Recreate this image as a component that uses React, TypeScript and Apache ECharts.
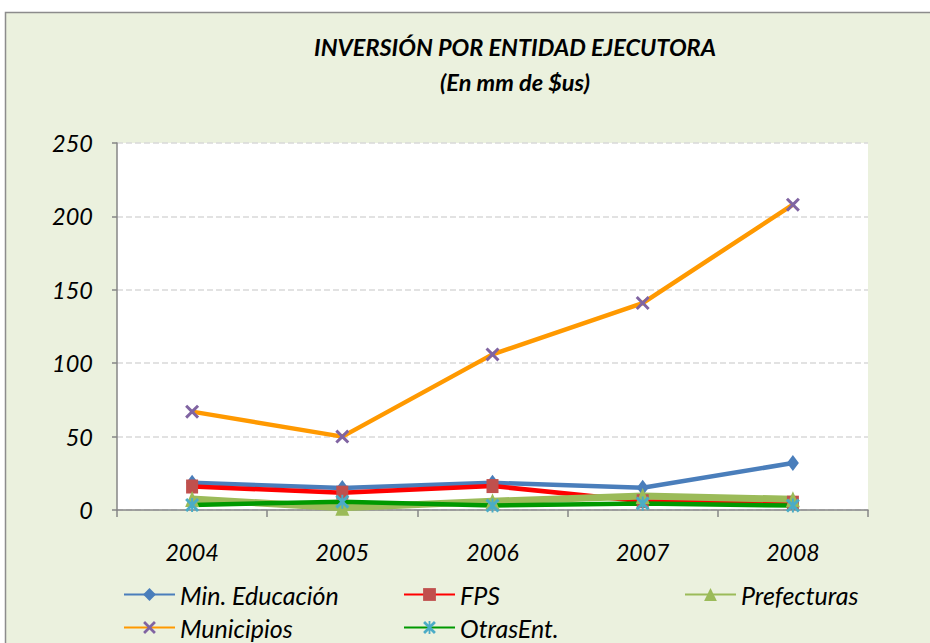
import React, { useEffect, useRef } from "react";
import * as echarts from "echarts";

const years = ["2004", "2005", "2006", "2007", "2008"];
const minEducacion = [18.5, 15, 18.5, 15.2, 32];
const fps = [16, 11.8, 16.3, 6, 5];
const prefecturas = [7.5, 1.5, 6, 9.5, 7.3];
const municipios = [67, 50, 106, 141, 208];
const otrasEnt = [3.4, 5.7, 3, 4.5, 3];
const yTicks = { min: 0, max: 250, interval: 50 };

const FONT = "Lato, 'Open Sans', sans-serif";

const xPath =
  "path://M0,1.5L1.5,0L5,3.5L8.5,0L10,1.5L6.5,5L10,8.5L8.5,10L5,6.5L1.5,10L0,8.5L3.5,5Z";
const starPath =
  "path://M0,1.5L1.5,0L5,3.5L8.5,0L10,1.5L6.5,5L10,8.5L8.5,10L5,6.5L1.5,10L0,8.5L3.5,5ZM4.3,0L5.7,0L5.7,10L4.3,10Z";

export default function App() {
  const ref = useRef<HTMLDivElement>(null);
  useEffect(() => {
    if (!ref.current) return;
    const chart = echarts.init(ref.current, null, { renderer: "svg" });
    const legendText = { fontSize: 25, fontStyle: "italic", color: "#000", fontFamily: FONT };
    const mkLegend = (name: string, left: number, top: number) => ({
      data: [name],
      left,
      top,
      itemWidth: 51,
      itemHeight: 16,
      itemGap: 4,
      textStyle: legendText,
    });
    chart.setOption({
      animation: false,
      backgroundColor: "#ffffff",
      graphic: [
        {
          type: "rect",
          z: -10,
          shape: { x: 5.5, y: 12.5, width: 940, height: 650 },
          style: { fill: "#EBF1DE", stroke: "#8C8C8C", lineWidth: 1.5 },
          silent: true,
        },
      ],
      title: {
        text: "INVERSIÓN POR ENTIDAD EJECUTORA\n(En mm de $us)",
        left: 510,
        top: 24,
        textAlign: "center",
        textStyle: {
          fontSize: 23.5,
          fontWeight: "bold",
          fontStyle: "italic",
          color: "#000",
          fontFamily: FONT,
          lineHeight: 35,
        },
      },
      grid: {
        left: 117,
        right: 62,
        top: 143,
        bottom: 133,
        show: true,
        backgroundColor: "#ffffff",
        borderWidth: 0,
      },
      legend: [
        mkLegend("Min. Educación", 118, 577),
        mkLegend("FPS", 398, 577),
        mkLegend("Prefecturas", 679, 577),
        mkLegend("Municipios", 118, 610),
        mkLegend("OtrasEnt.", 398, 610),
      ],
      xAxis: {
        type: "category",
        data: years,
        boundaryGap: true,
        axisLine: { lineStyle: { color: "#868686", width: 1.5 } },
        axisTick: { show: true, length: 7, lineStyle: { color: "#868686", width: 1.5 } },
        axisLabel: {
          fontSize: 23,
          fontStyle: "italic",
          color: "#000",
          fontFamily: FONT,
          margin: 30,
        },
      },
      yAxis: {
        type: "value",
        min: yTicks.min,
        max: yTicks.max,
        interval: yTicks.interval,
        axisLine: { show: true, lineStyle: { color: "#868686", width: 1.5 } },
        axisTick: { show: true, length: 5, lineStyle: { color: "#868686", width: 1.5 } },
        axisLabel: {
          fontSize: 23.5,
          fontStyle: "italic",
          color: "#000",
          fontFamily: FONT,
          margin: 24,
        },
        splitLine: { lineStyle: { color: "#D9D9D9", type: [6, 3], width: 1.5 } },
      },
      series: [
        {
          name: "Min. Educación",
          type: "line",
          data: minEducacion,
          symbol: "diamond",
          symbolSize: [12, 16],
          lineStyle: { color: "#4A7EBB", width: 4.5 },
          itemStyle: { color: "#4A7EBB" },
        },
        {
          name: "FPS",
          type: "line",
          data: fps,
          symbol: "rect",
          symbolSize: [12, 14],
          lineStyle: { color: "#FF0000", width: 4.5 },
          itemStyle: { color: "#C0504D" },
        },
        {
          name: "Prefecturas",
          type: "line",
          data: prefecturas,
          symbol: "triangle",
          symbolSize: [14, 16],
          lineStyle: { color: "#9BBB59", width: 7 },
          itemStyle: { color: "#9BBB59" },
        },
        {
          name: "Municipios",
          type: "line",
          data: municipios,
          symbol: xPath,
          symbolSize: 14,
          lineStyle: { color: "#FF9900", width: 4.5 },
          itemStyle: { color: "#8064A2" },
        },
        {
          name: "OtrasEnt.",
          type: "line",
          data: otrasEnt,
          symbol: starPath,
          symbolSize: 14,
          lineStyle: { color: "#009900", width: 4.5 },
          itemStyle: { color: "#4BACC6" },
        },
      ],
    });
    return () => chart.dispose();
  }, []);
  return (
    <div
      ref={ref}
      style={{ position: "absolute", left: 0, top: 0, width: 930, height: 643 }}
    />
  );
}
